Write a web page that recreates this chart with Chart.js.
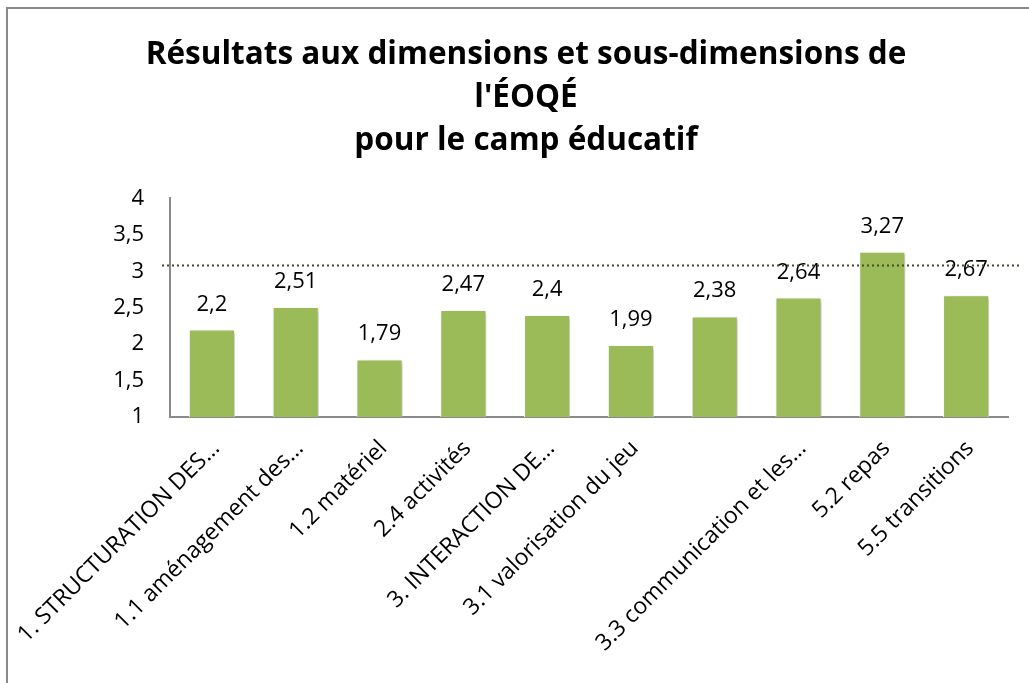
<!DOCTYPE html>
<html>
<head>
<meta charset="utf-8">
<script src="https://cdn.jsdelivr.net/npm/chart.js@4"></script>
<style>
  html, body { margin: 0; padding: 0; background: #fff; overflow: hidden; }
  #frame {
    position: absolute; left: 6px; top: 7px; width: 1040px; height: 690px;
    border-left: 2px solid #8a8a8a; border-top: 2px solid #8a8a8a;
  }
  #wrap { position: absolute; left: 0; top: 0; width: 1036px; height: 676px; }
</style>
</head>
<body>
<div id="frame"><div id="wrap"><canvas id="resultChart"></canvas></div></div>
<script>
// 10 bars; the 7th has no visible label in the original
const labels = [
  '1. STRUCTURATION DES…',
  '1.1 aménagement des…',
  '1.2 matériel',
  '2.4 activités',
  '3. INTERACTION DE…',
  '3.1 valorisation du jeu',
  '',
  '3.3 communication et les…',
  '5.2 repas',
  '5.5 transitions'
];
const scores = [2.2, 2.51, 1.79, 2.47, 2.4, 1.99, 2.38, 2.64, 3.27, 2.67];
const yTicks = [1, 1.5, 2, 2.5, 3, 3.5, 4];
const threshold = 3.08;
const titleLines = ["Résultats aux dimensions et sous-dimensions de", "l'ÉOQÉ", "pour le camp éducatif"];

const FONT = '"Open Sans", sans-serif';
const fmt = v => String(v).replace('.', ',');

// value labels above bars
const valueLabels = {
  id: 'valueLabels',
  afterDatasetsDraw(chart) {
    const ctx = chart.ctx;
    const meta = chart.getDatasetMeta(0);
    ctx.save();
    ctx.fillStyle = '#000';
    ctx.font = '22px ' + FONT;
    ctx.textAlign = 'center';
    ctx.textBaseline = 'alphabetic';
    meta.data.forEach((bar, i) => {
      ctx.fillText(fmt(scores[i]), bar.x, bar.y - 19);
    });
    ctx.restore();
  }
};

// dotted reference line
const refLine = {
  id: 'refLine',
  afterDatasetsDraw(chart) {
    const ctx = chart.ctx;
    const y = chart.scales.y.getPixelForValue(threshold);
    ctx.save();
    ctx.strokeStyle = '#4a4630';
    ctx.lineWidth = 2;
    ctx.setLineDash([2, 3]);
    ctx.beginPath();
    ctx.moveTo(chart.chartArea.left - 8, y);
    ctx.lineTo(chart.chartArea.right + 14, y);
    ctx.stroke();
    ctx.restore();
  }
};

// soft shadow under bars
const barShadow = {
  id: 'barShadow',
  beforeDatasetsDraw(chart) {
    chart.ctx.save();
    chart.ctx.shadowColor = 'rgba(0,0,0,0.25)';
    chart.ctx.shadowBlur = 4;
    chart.ctx.shadowOffsetX = 2;
    chart.ctx.shadowOffsetY = 2;
  },
  afterDatasetsDraw(chart) {
    chart.ctx.restore();
  }
};

const ctx = document.getElementById('resultChart').getContext('2d');
new Chart(ctx, {
  type: 'bar',
  data: {
    labels: labels,
    datasets: [{
      data: scores,
      backgroundColor: '#9bbb59',
      borderColor: '#ffffff',
      borderWidth: 1,
      barPercentage: 0.55,
      categoryPercentage: 1
    }]
  },
  options: {
    responsive: true,
    maintainAspectRatio: false,
    animation: false,
    layout: { padding: 0 },
    plugins: {
      legend: { display: false },
      tooltip: { enabled: false },
      title: {
        display: true,
        text: titleLines,
        color: '#000',
        font: { family: FONT, size: 31.5, weight: 'bold', lineHeight: 1.37 },
        padding: { top: 24, bottom: 36 }
      }
    },
    scales: {
      y: {
        min: 1,
        max: 4,
        afterBuildTicks(axis) { axis.ticks = yTicks.map(v => ({ value: v })); },
        ticks: {
          color: '#000',
          font: { family: FONT, size: 22 },
          padding: 18,
          callback: v => fmt(v)
        },
        grid: { display: false },
        border: { display: true, color: '#8a8a8a', width: 2 },
        afterFit(axis) { axis.width = 162; }
      },
      // empty spacer on the right so the title stays centred on the frame
      spacer: {
        type: 'linear',
        position: 'right',
        display: true,
        ticks: { display: false },
        grid: { display: false, drawTicks: false },
        border: { display: false },
        afterFit(axis) { axis.width = 36; }
      },
      x: {
        ticks: {
          color: '#000',
          font: { family: FONT, size: 23 },
          minRotation: 45,
          maxRotation: 45,
          autoSkip: false,
          padding: 10,
          labelOffset: 4
        },
        grid: { display: false },
        border: { display: true, color: '#8a8a8a', width: 2 },
        afterFit(axis) {
          axis.height = 268;
          axis.paddingLeft = 0;
          axis.paddingRight = 0;
        }
      }
    }
  },
  plugins: [barShadow, valueLabels, refLine]
});
</script>
</body>
</html>
